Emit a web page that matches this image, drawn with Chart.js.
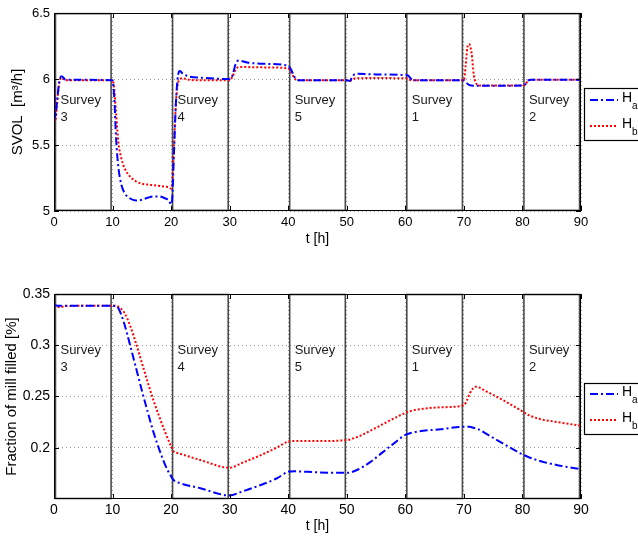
<!DOCTYPE html>
<html>
<head>
<meta charset="utf-8">
<script src="https://cdn.jsdelivr.net/npm/chart.js@4.4.0/dist/chart.umd.min.js"></script>
<style>
  html, body { margin: 0; padding: 0; background: #fff; }
  #wrap { position: relative; width: 638px; height: 538px; overflow: hidden; }
  canvas { position: absolute; left: 0; }
  #c1 { top: 0; }
  #c2 { top: 260px; }
</style>
</head>
<body>
<div id="wrap">
  <canvas id="c1" width="638" height="260"></canvas>
  <canvas id="c2" width="638" height="278"></canvas>
</div>
<script>
// ---------------- DATA ----------------
const tTop = [0, 0.2, 0.5, 0.9, 1.3, 2, 10, 10.3, 10.6, 11, 11.5, 12, 13, 14, 15, 16, 17, 18, 19, 19.6, 20, 20.2, 20.5, 20.8, 21.1, 21.5, 22, 23, 25, 30, 30.5, 31, 31.5, 33, 36, 40, 40.5, 41, 41.5, 42, 50, 50.5, 51, 51.5, 55, 60, 60.5, 61, 61.5, 62, 70, 70.3, 70.6, 70.9, 71.3, 71.7, 72.2, 73, 80, 80.5, 81, 81.5, 85, 90];
const svolHa = [6.0, 5.70, 5.82, 5.98, 6.02, 5.995, 5.99, 5.85, 5.55, 5.33, 5.2, 5.14, 5.095, 5.08, 5.085, 5.1, 5.11, 5.11, 5.095, 5.08, 5.05, 5.1, 5.45, 5.8, 6.0, 6.06, 6.04, 6.02, 6.01, 6.0, 6.03, 6.11, 6.14, 6.125, 6.115, 6.1, 6.07, 6.02, 5.995, 5.99, 5.99, 5.985, 6.02, 6.04, 6.035, 6.03, 6.025, 6.0, 5.99, 5.99, 5.99, 5.98, 5.965, 5.955, 5.95, 5.948, 5.948, 5.948, 5.95, 5.96, 5.99, 5.995, 5.995, 5.995];
const svolHb = [6.0, 5.68, 5.8, 5.97, 6.01, 5.99, 5.99, 5.92, 5.74, 5.52, 5.4, 5.33, 5.26, 5.225, 5.207, 5.2, 5.195, 5.19, 5.185, 5.18, 5.17, 5.22, 5.5, 5.8, 5.95, 6.0, 6.005, 5.995, 5.99, 5.99, 6.02, 6.07, 6.09, 6.09, 6.088, 6.08, 6.05, 6.01, 5.99, 5.99, 5.99, 5.985, 5.995, 6.005, 6.007, 6.005, 6.0, 5.99, 5.99, 5.99, 5.99, 6.1, 6.24, 6.265, 6.2, 6.03, 5.96, 5.95, 5.95, 5.96, 5.99, 5.995, 5.995, 5.995];

const tBot = [0, 1, 2, 10, 10.5, 11, 12, 13, 14, 15, 16, 17, 18, 19, 20, 20.5, 21, 25, 30, 32, 35, 38, 40, 41, 45, 50, 52, 54, 56, 58, 60, 61, 63, 66, 70, 70.5, 71, 71.5, 72, 72.5, 74, 77, 80, 81, 83, 86, 90];
const fillHa = [0.339, 0.3385, 0.3385, 0.3385, 0.3383, 0.336, 0.321, 0.300, 0.278, 0.256, 0.235, 0.215, 0.198, 0.183, 0.172, 0.168, 0.1665, 0.1605, 0.1535, 0.157, 0.163, 0.170, 0.1765, 0.177, 0.176, 0.1755, 0.179, 0.186, 0.195, 0.204, 0.2125, 0.2145, 0.2165, 0.218, 0.2205, 0.2205, 0.2205, 0.2198, 0.219, 0.218, 0.213, 0.203, 0.1935, 0.191, 0.187, 0.183, 0.179];
const fillHb = [0.339, 0.337, 0.3383, 0.3385, 0.3385, 0.3375, 0.332, 0.319, 0.302, 0.283, 0.264, 0.246, 0.23, 0.215, 0.2015, 0.196, 0.195, 0.188, 0.1805, 0.185, 0.192, 0.2, 0.206, 0.2065, 0.2065, 0.2075, 0.211, 0.2165, 0.2225, 0.2285, 0.234, 0.236, 0.238, 0.2395, 0.2415, 0.246, 0.253, 0.2575, 0.2595, 0.259, 0.2545, 0.2455, 0.2355, 0.232, 0.228, 0.225, 0.2215];

const xTicks = [0, 10, 20, 30, 40, 50, 60, 70, 80, 90];
const yTicksTop = [5, 5.5, 6, 6.5];
const yTicksTopLabels = ['5', '5.5', '6', '6.5'];
const yTicksBot = [0.2, 0.25, 0.3, 0.35];
const yTicksBotLabels = ['0.2', '0.25', '0.3', '0.35'];

const surveyStart = [0, 20, 40, 60, 80];
const surveyEnd = [10, 30, 50, 70, 90];
const surveyNames = ['3', '4', '5', '1', '2'];
const seriesNames = [['H', 'a'], ['H', 'b']];

// ---------------- STYLE ----------------
const FONT = "'Liberation Sans', Arial, Helvetica, sans-serif";
Chart.defaults.font.family = FONT;
Chart.defaults.color = '#000';

function pts(ts, vs) { return ts.map((t, i) => ({ x: t, y: vs[i] })); }

const blueStyle = { borderColor: '#0000ff', borderWidth: 2, borderDash: [8, 3, 2, 3] };
const redStyle = { borderColor: '#ff0000', borderWidth: 2, borderDash: [2, 2] };

function makePlugin(cfg) {
  return {
    id: 'matlabDecor',
    beforeDatasetsDraw(chart) {
      const { ctx } = chart;
      const xs = chart.scales.x, ys = chart.scales.y;
      ctx.save();
      for (let i = 0; i < surveyStart.length; i++) {
        const x0 = xs.getPixelForValue(surveyStart[i] + 0.25);
        const x1 = xs.getPixelForValue(surveyEnd[i] - 0.25);
        const y0 = ys.getPixelForValue(cfg.boxTop);
        const y1 = ys.getPixelForValue(cfg.boxBottom);
        ctx.strokeStyle = '#4a4a4a';
        ctx.lineWidth = 1.6;
        ctx.strokeRect(x0, y0, x1 - x0, y1 - y0);
        ctx.fillStyle = '#1a1a1a';
        ctx.font = '13px ' + FONT;
        ctx.textBaseline = 'middle';
        ctx.textAlign = 'left';
        const ty = ys.getPixelForValue(cfg.textY);
        ctx.fillText('Survey', x0 + 5, ty);
        ctx.fillText(surveyNames[i], x0 + 5, ty + 17);
      }
      ctx.restore();
    },
    afterDraw(chart) {
      const { ctx, chartArea: a } = chart;
      const xs = chart.scales.x, ys = chart.scales.y;
      ctx.save();
      ctx.strokeStyle = '#000';
      ctx.lineWidth = 1;
      ctx.strokeRect(a.left + 0.5, a.top + 0.5, a.right - a.left - 1, a.bottom - a.top - 1);
      ctx.beginPath();
      xTicks.forEach(v => {
        const x = Math.round(xs.getPixelForValue(v)) + 0.5;
        ctx.moveTo(x, a.bottom); ctx.lineTo(x, a.bottom - 5);
        ctx.moveTo(x, a.top); ctx.lineTo(x, a.top + 5);
      });
      cfg.yTicks.forEach(v => {
        const y = Math.round(ys.getPixelForValue(v)) + 0.5;
        ctx.moveTo(a.left, y); ctx.lineTo(a.left + 5, y);
        ctx.moveTo(a.right, y); ctx.lineTo(a.right - 5, y);
      });
      ctx.stroke();
      const L = cfg.legend;
      ctx.fillStyle = '#fff';
      ctx.fillRect(L.x, L.y, L.w, L.h);
      ctx.strokeStyle = '#000';
      ctx.lineWidth = 1.2;
      ctx.strokeRect(L.x + 0.5, L.y + 0.5, L.w, L.h);
      const styles = [blueStyle, redStyle];
      styles.forEach((s, i) => {
        const ly = L.y + L.rows[i];
        ctx.beginPath();
        ctx.strokeStyle = s.borderColor;
        ctx.lineWidth = s.borderWidth;
        ctx.setLineDash(s.borderDash);
        ctx.moveTo(L.x + 6, ly); ctx.lineTo(L.x + 34, ly);
        ctx.stroke();
        ctx.setLineDash([]);
        ctx.fillStyle = '#000';
        ctx.textAlign = 'left';
        ctx.textBaseline = 'middle';
        ctx.font = '14px ' + FONT;
        ctx.fillText(seriesNames[i][0], L.x + 38, ly - 2);
        ctx.font = '10px ' + FONT;
        ctx.fillText(seriesNames[i][1], L.x + 48, ly + 6);
      });
      ctx.restore();
    }
  };
}

function makeChart(id, cfg) {
  return new Chart(document.getElementById(id), {
    type: 'line',
    data: {
      datasets: [
        Object.assign({ label: 'Ha', data: pts(cfg.t, cfg.a), pointRadius: 0, fill: false, cubicInterpolationMode: 'monotone' }, blueStyle),
        Object.assign({ label: 'Hb', data: pts(cfg.t, cfg.b), pointRadius: 0, fill: false, cubicInterpolationMode: 'monotone' }, redStyle)
      ]
    },
    options: {
      responsive: false,
      animation: false,
      devicePixelRatio: 1,
      layout: { padding: cfg.padding },
      plugins: { legend: { display: false }, tooltip: { enabled: false } },
      scales: {
        x: {
          type: 'linear', min: 0, max: 90,
          afterBuildTicks: s => { s.ticks = xTicks.map(v => ({ value: v })); },
          afterFit: s => { s.height = cfg.xAxisH; },
          ticks: { font: { size: cfg.tickSize }, color: '#000', padding: cfg.xTickPad, maxRotation: 0, autoSkip: false },
          grid: { color: '#9a9a9a', lineWidth: 1, drawTicks: false },
          border: { display: false, dash: [1, 3] },
          title: { display: true, text: 't [h]', font: { size: 14 }, color: '#000', padding: cfg.xTitlePad }
        },
        y: {
          type: 'linear', min: cfg.yMin, max: cfg.yMax,
          afterBuildTicks: s => { s.ticks = cfg.yTicks.map(v => ({ value: v })); },
          afterFit: s => { s.width = 54; },
          ticks: { font: { size: cfg.tickSize }, color: '#000', padding: 4, autoSkip: false,
                   callback: (v, i) => cfg.yLabels[i] },
          grid: { color: '#9a9a9a', lineWidth: 1, drawTicks: false },
          border: { display: false, dash: [1, 3] },
          title: { display: true, text: cfg.yTitle, font: { size: cfg.yTitleSize }, color: '#000', padding: cfg.yTitlePad }
        }
      }
    },
    plugins: [makePlugin(cfg)]
  });
}

makeChart('c1', {
  t: tTop, a: svolHa, b: svolHb,
  yMin: 5, yMax: 6.5, yTicks: yTicksTop, yLabels: yTicksTopLabels,
  yTitle: 'SVOL  [m³/h]', yTitleSize: 15, tickSize: 13,
  padding: { top: 13, right: 57, left: 0, bottom: 0 },
  xAxisH: 49, xTickPad: 4, xTitlePad: { top: 0, bottom: 12 }, yTitlePad: { top: 9, bottom: 0 },
  boxTop: 6.495, boxBottom: 5.005, textY: 5.84,
  legend: { x: 584, y: 88, w: 70, h: 52, rows: [12, 38] }
});

makeChart('c2', {
  t: tBot, a: fillHa, b: fillHb,
  yMin: 0.15, yMax: 0.35, yTicks: yTicksBot, yLabels: yTicksBotLabels,
  yTitle: 'Fraction of mill filled [%]', yTitleSize: 15, tickSize: 14,
  padding: { top: 34, right: 57, left: 0, bottom: 0 },
  xAxisH: 39, xTickPad: 3, xTitlePad: { top: 0, bottom: 3 }, yTitlePad: { top: 3, bottom: 0 },
  boxTop: 0.3495, boxBottom: 0.1505, textY: 0.2945,
  legend: { x: 584, y: 123, w: 70, h: 51, rows: [11, 37] }
});
</script>
</body>
</html>
